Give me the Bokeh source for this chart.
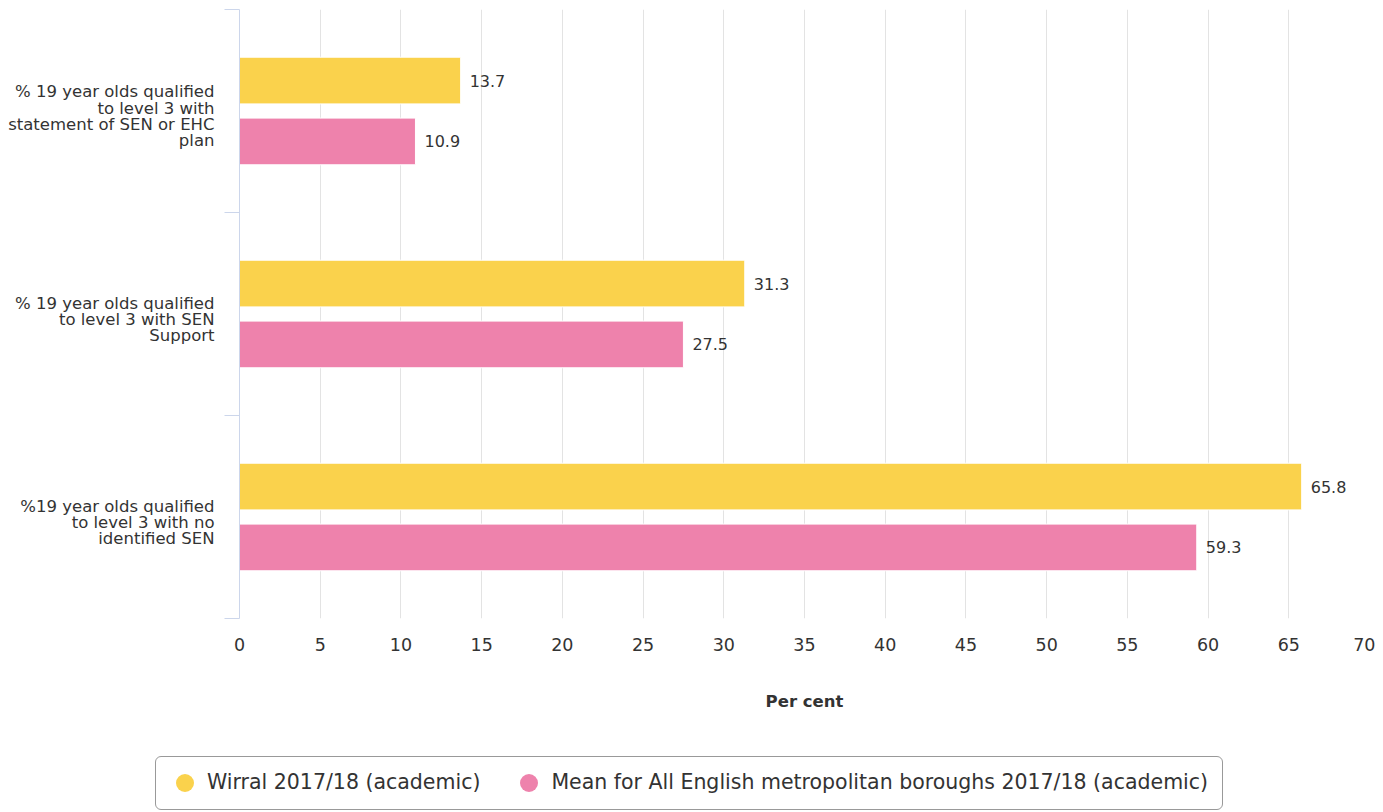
from bokeh.plotting import figure
from bokeh.layouts import column
from bokeh.models import (Range1d, LinearAxis, FixedTicker, ColumnDataSource, Div)
from bokeh.core.properties import value
from bokeh.embed import file_html
from bokeh.resources import INLINE

# ---- data ----
categories = [
    "% 19 year olds qualified\nto level 3 with\nstatement of SEN or EHC\nplan",
    "% 19 year olds qualified\nto level 3 with SEN\nSupport",
    "%19 year olds qualified\nto level 3 with no\nidentified SEN",
]
wirral = [13.7, 31.3, 65.8]
mean_met = [10.9, 27.5, 59.3]
series_names = ["Wirral 2017/18 (academic)",
                "Mean for All English metropolitan boroughs 2017/18 (academic)"]
series_colors = ["#fad24c", "#ee82ac"]
x_ticks = list(range(0, 75, 5))
x_title = "Per cent"

FONT = "DejaVu Sans"
TXT = "#333333"

n = len(categories)
centers = [n - i - 0.5 for i in range(n)]
label_pos = [round(c - 0.027, 3) for c in centers]

W = 1375
p = figure(width=W, height=746, x_range=Range1d(0, 70), y_range=Range1d(0, n),
           output_backend="svg", toolbar_location=None,
           min_border_left=239, min_border_right=6, min_border_top=9,
           min_border_bottom=128, y_axis_location=None, x_axis_location=None)
p.outline_line_color = None
p.background_fill_color = "white"

# x axis
xa = LinearAxis(ticker=FixedTicker(ticks=x_ticks), axis_label=x_title)
xa.axis_line_color = None
xa.major_tick_line_color = None
xa.minor_tick_line_color = None
xa.major_tick_out = 0
xa.major_tick_in = 0
xa.minor_tick_out = 0
xa.major_label_text_font = FONT
xa.major_label_text_font_size = "17.5px"
xa.major_label_text_color = TXT
xa.major_label_standoff = 19
xa.axis_label_text_font = FONT
xa.axis_label_text_font_style = "bold"
xa.axis_label_text_font_size = "16.5px"
xa.axis_label_text_color = TXT
xa.axis_label_standoff = 38
p.add_layout(xa, "below")

# y axis (category labels at band centres, ticks at band edges)
ya = LinearAxis(ticker=FixedTicker(ticks=label_pos, minor_ticks=list(range(n + 1))))
ya.major_label_overrides = {c: lab for c, lab in zip(label_pos, categories)}
ya.axis_line_color = "#ccd6eb"
ya.major_tick_line_color = None
ya.major_tick_out = 0
ya.major_tick_in = 0
ya.minor_tick_line_color = "#ccd6eb"
ya.minor_tick_out = 15
ya.minor_tick_in = 0
ya.major_label_standoff = 10
ya.major_label_text_font = FONT
ya.major_label_text_font_size = "16.5px"
ya.major_label_text_color = TXT
ya.major_label_text_line_height = 0.86
p.add_layout(ya, "left")

p.xgrid.ticker = FixedTicker(ticks=x_ticks)
p.xgrid.grid_line_color = "#e3e3e3"
p.ygrid.grid_line_color = None

offset = 0.15
bar_h = 0.23
for k, (vals, col) in enumerate(zip([wirral, mean_met], series_colors)):
    ys = [c + offset if k == 0 else c - offset for c in centers]
    src = ColumnDataSource(dict(y=ys, w=vals, lbl=[f"{v}" for v in vals]))
    p.hbar(y="y", left=0, right="w", height=bar_h, source=src,
           fill_color=col, line_color="white", line_width=1)
    p.text(x="w", y="y", text="lbl", source=src, x_offset=9,
           text_baseline="middle", text_align="left",
           text_font=value(FONT), text_font_size="16px", text_color=TXT)

# legend box under the chart
items_html = ""
for i, (name, col) in enumerate(zip(series_names, series_colors)):
    ml = 20 if i == 0 else 40
    items_html += (
        f'<span style="display:inline-block;width:18px;height:18px;border-radius:50%;'
        f'background:{col};margin-left:{ml}px;margin-right:13px;flex:none"></span>'
        f'<span style="white-space:nowrap">{name}</span>'
    )
legend_html = (
    f'<div style="display:inline-flex;align-items:center;box-sizing:border-box;'
    f'margin-left:150px;margin-top:5px;height:54px;padding-right:14px;'
    f'border:1px solid #999999;border-radius:6px;background:#ffffff;'
    f'font-family:\'{FONT}\';font-size:20.5px;color:{TXT}">{items_html}</div>'
)
legend_div = Div(text=legend_html, width=W, height=64)

layout = column(p, legend_div, spacing=0)
open("out.html", "w").write(file_html(layout, INLINE))
